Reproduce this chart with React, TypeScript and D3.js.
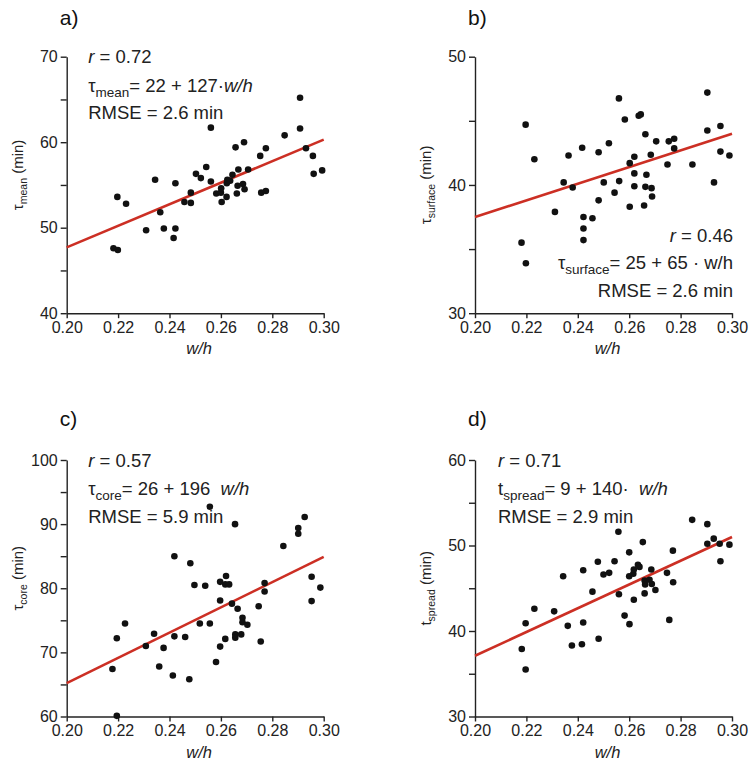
import React, { useEffect, useRef } from 'react';
import * as d3 from 'd3';

const whTicks = [0.2, 0.22, 0.24, 0.26, 0.28, 0.3];

// a) tau mean
const whA = [0.2182, 0.2199, 0.2197, 0.2231, 0.2309, 0.2344, 0.2364, 0.2378, 0.2416, 0.2423, 0.2423, 0.2458, 0.2483, 0.2483, 0.2503, 0.2522, 0.2543, 0.2561, 0.2561, 0.2582, 0.26, 0.2601, 0.2603, 0.2622, 0.2623, 0.2625, 0.2636, 0.2645, 0.2657, 0.2662, 0.2665, 0.2668, 0.2686, 0.269, 0.2692, 0.2706, 0.2753, 0.2757, 0.2775, 0.2775, 0.2848, 0.2908, 0.2908, 0.2931, 0.2958, 0.2961, 0.2994];
const tauMean = [47.6, 47.4, 53.6, 52.8, 49.7, 55.6, 51.8, 49.9, 48.8, 49.9, 55.2, 53.0, 54.1, 52.9, 56.3, 55.8, 57.1, 61.7, 55.4, 54.0, 54.1, 54.6, 53.0, 53.6, 55.2, 55.6, 55.5, 56.2, 59.4, 54.0, 54.9, 56.8, 55.1, 60.0, 54.5, 56.8, 58.4, 54.1, 59.3, 54.3, 60.8, 65.2, 61.6, 59.3, 58.4, 56.3, 56.7];

// b) tau surface
const whB = [0.2181, 0.2197, 0.2198, 0.2231, 0.2311, 0.2345, 0.2364, 0.238, 0.2417, 0.2422, 0.2422, 0.2422, 0.2457, 0.2481, 0.2481, 0.2501, 0.2521, 0.2543, 0.256, 0.2561, 0.2583, 0.2602, 0.2602, 0.262, 0.262, 0.262, 0.2637, 0.2645, 0.2658, 0.2663, 0.2663, 0.2667, 0.2684, 0.2687, 0.2689, 0.2705, 0.2749, 0.2754, 0.2775, 0.2775, 0.2846, 0.2904, 0.2904, 0.293, 0.2955, 0.2955, 0.299];
const tauSurface = [35.5, 44.7, 33.9, 42.0, 37.9, 40.2, 42.3, 39.8, 42.9, 37.5, 36.6, 35.7, 37.4, 42.55, 38.8, 40.2, 43.25, 39.4, 46.75, 40.3, 45.1, 41.7, 38.3, 42.2, 40.9, 39.9, 45.4, 45.5, 38.4, 43.95, 39.85, 40.8, 42.35, 39.75, 39.1, 43.4, 41.6, 43.4, 43.6, 42.85, 41.6, 47.2, 44.25, 40.2, 44.6, 42.6, 42.3];

// c) tau core
const whC = [0.2178, 0.2195, 0.2195, 0.2227, 0.2308, 0.234, 0.236, 0.2377, 0.2413, 0.2419, 0.2419, 0.2461, 0.2477, 0.2481, 0.2497, 0.2518, 0.2539, 0.2557, 0.2557, 0.2581, 0.2597, 0.2597, 0.2597, 0.2617, 0.2617, 0.262, 0.2632, 0.2643, 0.2655, 0.2656, 0.2656, 0.2665, 0.2679, 0.2684, 0.2684, 0.2703, 0.2747, 0.2755, 0.277, 0.277, 0.2843, 0.2901, 0.2901, 0.2926, 0.2953, 0.2953, 0.2987];
const tauCore = [67.4, 72.2, 60.1, 74.5, 71.0, 72.9, 67.8, 70.7, 66.4, 85.0, 72.5, 72.4, 65.8, 83.9, 80.5, 74.5, 80.4, 92.7, 74.5, 68.5, 81.0, 78.1, 70.9, 72.1, 80.6, 81.9, 80.6, 77.6, 90.0, 72.8, 72.3, 76.8, 72.8, 75.4, 74.7, 74.3, 77.2, 71.7, 80.8, 79.5, 86.6, 89.4, 88.5, 91.1, 81.8, 78.0, 80.1];

// d) t spread
const whD = [0.2182, 0.2197, 0.2197, 0.2231, 0.2308, 0.2343, 0.2361, 0.2377, 0.2416, 0.2421, 0.2421, 0.2457, 0.2478, 0.2481, 0.25, 0.2522, 0.2543, 0.2558, 0.256, 0.2582, 0.26, 0.26, 0.2601, 0.2616, 0.2618, 0.2618, 0.2634, 0.264, 0.2653, 0.266, 0.266, 0.2662, 0.2679, 0.2686, 0.2688, 0.2702, 0.2747, 0.2756, 0.277, 0.2771, 0.2845, 0.2904, 0.2904, 0.2929, 0.2952, 0.2955, 0.299];
const tSpread = [37.9, 40.9, 35.5, 42.6, 42.3, 46.4, 40.6, 38.3, 38.45, 41.0, 47.1, 44.6, 48.1, 39.1, 46.6, 46.8, 48.15, 51.6, 44.3, 41.8, 49.2, 46.4, 40.8, 46.7, 43.65, 47.2, 47.75, 47.5, 50.4, 44.4, 45.9, 45.45, 46.0, 47.2, 45.5, 44.8, 46.8, 41.3, 49.4, 45.7, 53.0, 52.5, 50.2, 50.8, 50.2, 48.15, 50.1];

const panelLabels = ['a)', 'b)', 'c)', 'd)'];
const yDomains = [[40, 70], [30, 50], [60, 100], [30, 60]];
const fitAt020 = [47.7, 37.5, 65.2, 37.1];
const fitAt030 = [60.3, 44.0, 84.9, 51.0];
const rValues = ['0.72', '0.46', '0.57', '0.71'];
const rmseValues = ['2.6', '2.6', '5.9', '2.9'];
const symbols = ['τ', 'τ', 'τ', 't'];
const subscripts = ['mean', 'surface', 'core', 'spread'];
const eqRhs = ['= 22 + 127·', '= 25 + 65 · w/h', '= 26 + 196  ', '= 9 + 140·  '];
const eqItalic = ['w/h', '', 'w/h', 'w/h'];

const FONT = '"Liberation Sans", Arial, Helvetica, sans-serif';
const RED = '#cc2f24';

export default function App() {
  const ref = useRef<SVGSVGElement>(null);

  useEffect(() => {
    const svg = d3.select(ref.current);
    svg.selectAll('*').remove();

    const xs = [whA, whB, whC, whD];
    const ys = [tauMean, tauSurface, tauCore, tSpread];
    // plot boxes: left, top
    const lefts = [66.7, 475, 66.7, 475];
    const tops = [56.7, 56.7, 460, 460];
    const w = 257, h = 256.5;

    for (let i = 0; i < 4; i++) {
      const g = svg.append('g').attr('transform', `translate(${lefts[i]},${tops[i]})`);
      const x = d3.scaleLinear().domain([0.2, 0.3]).range([0, w]);
      const y = d3.scaleLinear().domain(yDomains[i]).range([h, 0]);

      const yAxis = d3.axisLeft(y)
        .tickValues(d3.range(yDomains[i][0], yDomains[i][1] + 0.1, 5))
        .tickFormat((d: any) => (d % 10 === 0 ? String(d) : ''))
        .tickSize(6).tickSizeOuter(0).tickPadding(3);
      const xAxis = d3.axisBottom(x)
        .tickValues(whTicks)
        .tickFormat(d3.format('.2f') as any)
        .tickSize(5).tickSizeOuter(0).tickPadding(3);

      const ga = g.append('g').call(yAxis);
      const gx = g.append('g').attr('transform', `translate(0,${h})`).call(xAxis);
      [ga, gx].forEach(a => {
        a.selectAll('path,line').attr('stroke', '#222').attr('stroke-width', 1.4);
        a.selectAll('text').attr('font-family', FONT).attr('font-size', 16).attr('fill', '#222');
      });

      // regression line
      g.append('line')
        .attr('x1', x(0.2)).attr('y1', y(fitAt020[i]))
        .attr('x2', x(0.3)).attr('y2', y(fitAt030[i]))
        .attr('stroke', RED).attr('stroke-width', 2.6);

      g.selectAll('circle.pt')
        .data(xs[i].map((v, k) => [v, ys[i][k]]))
        .enter().append('circle')
        .attr('class', 'pt')
        .attr('cx', d => x(d[0]))
        .attr('cy', d => y(d[1]))
        .attr('r', 3.3)
        .attr('fill', '#111');

      // panel letter
      g.append('text').attr('x', -7).attr('y', -32 - (i < 2 ? 0 : 2))
        .attr('font-family', FONT).attr('font-size', 21).attr('fill', '#111')
        .text(panelLabels[i]);

      // axis titles
      g.append('text')
        .attr('x', w / 2 + 4).attr('y', h + 41)
        .attr('text-anchor', 'middle')
        .attr('font-family', FONT).attr('font-size', 16.5).attr('font-style', 'italic').attr('fill', '#222')
        .text('w/h');

      const yl = g.append('text')
        .attr('transform', `translate(-44,${h / 2 - (i === 0 || i === 2 ? 10 : 0)}) rotate(-90)`)
        .attr('text-anchor', 'middle')
        .attr('font-family', FONT).attr('font-size', 15).attr('fill', '#222');
      yl.append('tspan').text(symbols[i]);
      yl.append('tspan').attr('font-size', 10.5).attr('dy', 4).text(subscripts[i]);
      yl.append('tspan').attr('dy', -4).style('white-space', 'pre').text(' (min)');

      // annotation
      const right = i === 1;
      const ax = right ? w + 1 : (i === 3 ? 23 : 21.5);
      const base = right ? [h - 71, h - 44, h - 16] : [6.5, 35, 62.5];
      const anchor = right ? 'end' : 'start';
      const t1 = g.append('text').attr('x', ax).attr('y', base[0]).attr('text-anchor', anchor)
        .attr('font-family', FONT).attr('font-size', 18.5).attr('fill', '#222').style('white-space', 'pre');
      t1.append('tspan').attr('font-style', 'italic').text('r');
      t1.append('tspan').text(' = ' + rValues[i]);

      const t2 = g.append('text').attr('x', ax).attr('y', base[1]).attr('text-anchor', anchor)
        .attr('font-family', FONT).attr('font-size', 18.5).attr('fill', '#222').style('white-space', 'pre');
      t2.append('tspan').text(symbols[i]);
      t2.append('tspan').attr('font-size', 13.5).attr('dy', 5).text(subscripts[i]);
      t2.append('tspan').attr('dy', -5).text(eqRhs[i]);
      if (eqItalic[i]) t2.append('tspan').attr('font-style', 'italic').text(eqItalic[i]);

      g.append('text').attr('x', ax).attr('y', base[2]).attr('text-anchor', anchor)
        .attr('font-family', FONT).attr('font-size', 18.5).attr('fill', '#222')
        .text(`RMSE = ${rmseValues[i]} min`);
    }
  }, []);

  return (
    <svg ref={ref} width={751} height={766}
      style={{ position: 'absolute', left: 0, top: 0, background: '#fff' }} />
  );
}
